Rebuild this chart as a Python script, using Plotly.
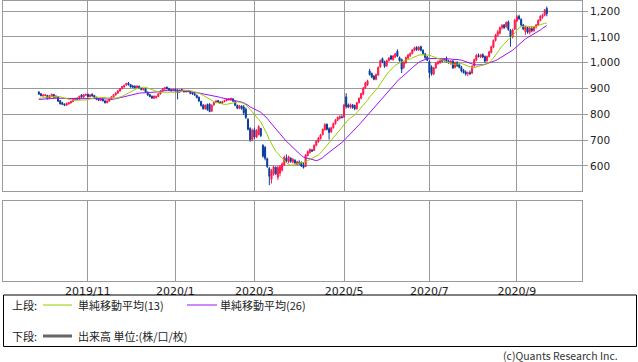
import pandas as pd
import plotly.graph_objects as go

# ---------------- data ----------------
holidays = ["2019-10-14", "2019-10-22", "2019-11-04", "2019-12-31", "2020-01-01",
            "2020-01-02", "2020-01-03", "2020-01-13", "2020-02-11", "2020-02-24",
            "2020-03-20", "2020-04-29", "2020-05-04", "2020-05-05", "2020-05-06",
            "2020-07-23", "2020-07-24", "2020-08-10", "2020-09-21", "2020-09-22"]

opens = [
    886, 880, 871, 873, 874, 862, 869, 877, 866, 868,
    853, 845, 840, 835, 840, 844, 849, 856, 862, 858,
    876, 866, 874, 878, 868, 878, 873, 866, 860, 854,
    859, 852, 845, 851, 858, 867, 875, 882, 890, 899,
    906, 914, 921, 915, 910, 908, 903, 909, 901, 895,
    899, 886, 876, 870, 862, 864, 869, 879, 890, 898,
    905, 900, 895, 892, 897, 894, 886, 896, 893, 888,
    892, 889, 883, 880, 874, 866, 850, 835, 822, 838,
    840, 812, 836, 846, 853, 848, 843, 849, 853, 857,
    858, 860, 850, 834, 823, 832, 828, 820, 780, 745,
    702, 740, 712, 722, 745, 680, 672, 628, 590, 548,
    570, 595, 556, 572, 584, 604, 630, 616, 630, 616,
    622, 606, 614, 612, 604, 598, 640, 652, 662, 660,
    680, 694, 706, 722, 740, 762, 744, 732, 748, 764,
    777, 784, 790, 790, 868, 836, 828, 836, 834, 822,
    845, 862, 878, 902, 914, 968, 958, 948, 936, 952,
    984, 1016, 1004, 988, 1008, 1026, 1012, 1022, 1044, 1020,
    1012, 982, 1000, 1018, 1028, 1036, 1048, 1060, 1050, 1062,
    1048, 1034, 1022, 1004, 984, 956, 980, 996, 1000, 1010,
    1008, 1016, 1006, 1002, 1006, 982, 1000, 992, 982, 970,
    964, 958, 962, 960, 988, 1010, 1028, 1022, 1032, 1024,
    1008, 1024, 1040, 1060, 1086, 1106, 1114, 1136, 1146, 1140,
    1158, 1126, 1100, 1130, 1162, 1180, 1168, 1146, 1120, 1136,
    1118, 1132, 1124, 1138, 1146, 1164, 1176, 1184, 1210,
]
highs = [
    890, 882, 877, 878, 875, 874, 880, 879, 874, 869,
    855, 848, 842, 845, 848, 852, 860, 864, 866, 872,
    878, 878, 880, 880, 878, 881, 875, 868, 862, 862,
    861, 855, 854, 861, 870, 878, 885, 893, 902, 910,
    915, 922, 925, 918, 914, 913, 912, 911, 903, 902,
    900, 888, 880, 873, 873, 872, 882, 893, 902, 906,
    908, 903, 898, 899, 900, 897, 896, 899, 895, 893,
    895, 891, 886, 882, 876, 869, 853, 840, 838, 842,
    843, 838, 848, 855, 856, 850, 852, 856, 861, 863,
    864, 862, 852, 838, 836, 835, 836, 826, 786, 750,
    745, 748, 742, 758, 748, 684, 678, 632, 596, 588,
    602, 598, 600, 604, 614, 640, 645, 640, 634, 630,
    626, 620, 622, 618, 614, 646, 660, 668, 666, 684,
    700, 712, 724, 745, 766, 764, 750, 752, 768, 782,
    792, 796, 798, 840, 882, 842, 842, 840, 838, 848,
    866, 884, 906, 926, 934, 976, 962, 952, 958, 986,
    1012, 1020, 1008, 1012, 1022, 1030, 1030, 1038, 1052, 1024,
    1016, 1006, 1024, 1034, 1040, 1052, 1062, 1064, 1064, 1066,
    1052, 1038, 1026, 1010, 990, 984, 1002, 1008, 1012, 1016,
    1018, 1024, 1012, 1010, 1010, 1004, 1006, 998, 988, 976,
    970, 966, 970, 990, 1016, 1034, 1036, 1034, 1036, 1028,
    1028, 1046, 1066, 1090, 1112, 1126, 1140, 1150, 1150, 1160,
    1164, 1130, 1132, 1170, 1184, 1186, 1172, 1150, 1142, 1140,
    1138, 1140, 1142, 1150, 1168, 1184, 1190, 1208, 1218,
]
lows = [
    876, 870, 869, 870, 858, 860, 867, 864, 863, 848,
    838, 836, 832, 833, 838, 842, 847, 854, 856, 856,
    864, 864, 871, 866, 866, 869, 863, 855, 852, 852,
    850, 842, 843, 849, 856, 865, 873, 880, 888, 897,
    903, 911, 912, 904, 903, 901, 901, 898, 893, 893,
    884, 872, 866, 860, 860, 862, 867, 877, 888, 894,
    897, 890, 889, 889, 888, 858, 884, 889, 885, 884,
    886, 878, 876, 872, 862, 848, 830, 818, 818, 814,
    808, 810, 834, 843, 844, 840, 841, 847, 851, 853,
    852, 848, 832, 820, 820, 818, 798, 782, 738, 694,
    696, 705, 708, 718, 712, 632, 622, 592, 526, 532,
    562, 565, 546, 560, 578, 600, 614, 610, 612, 610,
    608, 603, 604, 596, 590, 596, 638, 648, 654, 658,
    676, 690, 702, 718, 738, 738, 702, 728, 745, 760,
    774, 780, 784, 786, 822, 824, 822, 822, 816, 818,
    842, 858, 874, 898, 910, 950, 940, 932, 932, 950,
    980, 998, 980, 984, 1004, 1010, 1008, 1018, 1022, 1004,
    960, 976, 996, 1014, 1022, 1032, 1044, 1046, 1046, 1044,
    1030, 1014, 1006, 940, 950, 952, 976, 992, 996, 1002,
    1004, 1000, 996, 992, 976, 978, 984, 978, 962, 958,
    950, 948, 952, 956, 984, 1006, 1020, 1018, 1018, 1000,
    1004, 1020, 1036, 1056, 1082, 1100, 1110, 1128, 1130, 1134,
    1124, 1062, 1094, 1126, 1158, 1166, 1140, 1126, 1108, 1112,
    1110, 1118, 1120, 1132, 1142, 1160, 1170, 1180, 1180,
]
closes = [
    878, 872, 875, 876, 861, 872, 878, 866, 871, 851,
    841, 839, 835, 843, 846, 850, 858, 862, 858, 870,
    867, 876, 877, 868, 875, 871, 866, 858, 855, 860,
    852, 845, 852, 859, 868, 876, 883, 891, 900, 908,
    913, 920, 914, 906, 905, 904, 910, 900, 896, 900,
    887, 875, 869, 863, 871, 870, 880, 891, 899, 903,
    899, 893, 891, 896, 890, 884, 894, 892, 887, 891,
    889, 881, 879, 875, 865, 852, 834, 822, 835, 818,
    811, 835, 846, 852, 847, 843, 850, 854, 859, 860,
    862, 851, 835, 824, 834, 822, 806, 788, 742, 702,
    738, 712, 738, 752, 718, 638, 630, 598, 560, 582,
    596, 570, 594, 598, 608, 634, 620, 636, 618, 626,
    612, 616, 608, 600, 594, 642, 656, 664, 658, 680,
    696, 708, 720, 742, 760, 742, 730, 748, 765, 778,
    788, 792, 788, 836, 830, 828, 838, 826, 822, 845,
    862, 880, 902, 922, 930, 954, 944, 936, 954, 982,
    1008, 1002, 986, 1008, 1018, 1014, 1026, 1034, 1026, 1008,
    975, 1002, 1020, 1030, 1036, 1050, 1058, 1050, 1060, 1048,
    1036, 1020, 1010, 962, 956, 980, 998, 1004, 1008, 1006,
    1014, 1004, 1000, 1006, 980, 1000, 988, 982, 968, 962,
    956, 960, 958, 986, 1012, 1028, 1024, 1030, 1022, 1006,
    1024, 1042, 1062, 1086, 1108, 1120, 1136, 1144, 1136, 1156,
    1128, 1100, 1126, 1164, 1178, 1170, 1146, 1130, 1138, 1118,
    1134, 1124, 1138, 1146, 1164, 1180, 1184, 1204, 1190,
]
# closes of the sessions before the first shown candle (feed the moving averages)
prior_closes = [852, 848, 845, 850, 855, 853, 858, 862, 860, 856, 852, 855, 858,
                850, 846, 852, 858, 862, 866, 864, 860, 857, 862, 868, 872]

tick_months = ["2019-11", "2020-01", "2020-03", "2020-05", "2020-07", "2020-09"]
tick_labels = ["2019/11", "2020/1", "2020/3", "2020/5", "2020/7", "2020/9"]
price_ticks = [600, 700, 800, 900, 1000, 1100, 1200]

# ---------------- derived ----------------
dates = [d for d in pd.bdate_range("2019-09-27", "2020-09-23")
         if d.strftime("%Y-%m-%d") not in holidays]
n = len(closes)
dates = dates[:n]
xi = list(range(n))
month_keys = [d.strftime("%Y-%m") for d in dates]
tickvals = [month_keys.index(m) for m in tick_months]

all_close = pd.Series(prior_closes + closes, dtype=float)
ma13 = all_close.rolling(13).mean().iloc[len(prior_closes):].tolist()
ma26 = all_close.rolling(26).mean().iloc[len(prior_closes):].tolist()

W, H = 638, 362
def px(x):
    return x / W
def py(y):
    return 1 - y / H

UP = "#ff1a4c"
DOWN = "#0b3c9c"
GRID = "#9a9a9a"
XR = [-16.8, 254.5]

fig = go.Figure()
fig.add_trace(go.Candlestick(
    x=xi, open=opens, high=highs, low=lows, close=closes,
    increasing=dict(line=dict(color=UP, width=1), fillcolor=UP),
    decreasing=dict(line=dict(color=DOWN, width=1), fillcolor=DOWN),
    whiskerwidth=0, xaxis="x", yaxis="y", hoverinfo="skip"))
fig.add_trace(go.Scatter(x=xi, y=ma26, mode="lines",
                         line=dict(color="#a010f5", width=1), xaxis="x", yaxis="y"))
fig.add_trace(go.Scatter(x=xi, y=ma13, mode="lines",
                         line=dict(color="#99cc00", width=1), xaxis="x", yaxis="y"))
# empty lower (volume) panel
fig.add_trace(go.Scatter(x=[xi[0]], y=[None], mode="lines", xaxis="x2", yaxis="y2"))

base_font = "DejaVu Sans, Noto Sans CJK JP, sans-serif"
jp_font = "Noto Sans CJK JP, DejaVu Sans, sans-serif"

fig.update_layout(
    width=W, height=H, margin=dict(l=0, r=0, t=0, b=0),
    paper_bgcolor="white", plot_bgcolor="white", showlegend=False,
    font=dict(family=base_font, size=11, color="#222"),
    xaxis=dict(domain=[px(3), px(582)], range=XR, anchor="y",
               tickvals=tickvals, showticklabels=False, ticks="",
               showgrid=True, gridcolor=GRID, gridwidth=1,
               showline=True, linecolor=GRID, linewidth=1, mirror=True,
               zeroline=False, rangeslider=dict(visible=False)),
    yaxis=dict(domain=[py(190.5), py(0.5)], range=[505, 1241], anchor="x",
               side="right", tickvals=price_ticks, tickformat=",d",
               ticks="outside", ticklen=5, tickcolor=GRID,
               tickfont=dict(size=10.5, color="#222"),
               showgrid=True, gridcolor=GRID, gridwidth=1,
               showline=True, linecolor=GRID, linewidth=1, mirror=True,
               zeroline=False),
    xaxis2=dict(domain=[px(3), px(582)], range=XR, anchor="y2",
                tickvals=tickvals, ticktext=tick_labels, ticks="",
                tickfont=dict(size=11, color="#222"),
                showgrid=True, gridcolor=GRID, gridwidth=1,
                showline=True, linecolor=GRID, linewidth=1, mirror=True,
                zeroline=False),
    yaxis2=dict(domain=[py(280.5), py(201)], range=[0, 1], anchor="x2",
                showticklabels=False, ticks="", showgrid=False,
                showline=True, linecolor=GRID, linewidth=1, mirror=True,
                zeroline=False),
)

shapes = [
    dict(type="rect", xref="paper", yref="paper", x0=px(3.5), x1=px(636.5),
         y0=py(346.5), y1=py(295), line=dict(color="#000", width=1)),
    dict(type="line", xref="paper", yref="paper", x0=px(43), x1=px(72),
         y0=py(305), y1=py(305), line=dict(color="#99cc00", width=1)),
    dict(type="line", xref="paper", yref="paper", x0=px(187), x1=px(217),
         y0=py(305), y1=py(305), line=dict(color="#a010f5", width=1)),
    dict(type="line", xref="paper", yref="paper", x0=px(43), x1=px(72),
         y0=py(336), y1=py(336), line=dict(color="#666", width=3)),
]
fig.update_layout(shapes=shapes)

def label(text, x, y, anchor="left", size=11, color="#222"):
    fig.add_annotation(text=text, xref="paper", yref="paper", x=px(x), y=py(y),
                       xanchor=anchor, yanchor="middle", showarrow=False,
                       font=dict(family=jp_font, size=size, color=color), borderpad=0)

label("上段:", 11, 305)
label("単純移動平均(13)", 77, 305)
label("単純移動平均(26)", 219, 305)
label("下段:", 11, 336)
label("出来高 単位:(株/口/枚)", 77, 336)
label("(c)Quants Research Inc.", 619, 355, anchor="right", size=10.5, color="#333")

fig.write_html("out.html", config={"displayModeBar": False},
               post_script="document.body.style.margin='0px';"
                           "document.body.style.overflow='hidden';")
